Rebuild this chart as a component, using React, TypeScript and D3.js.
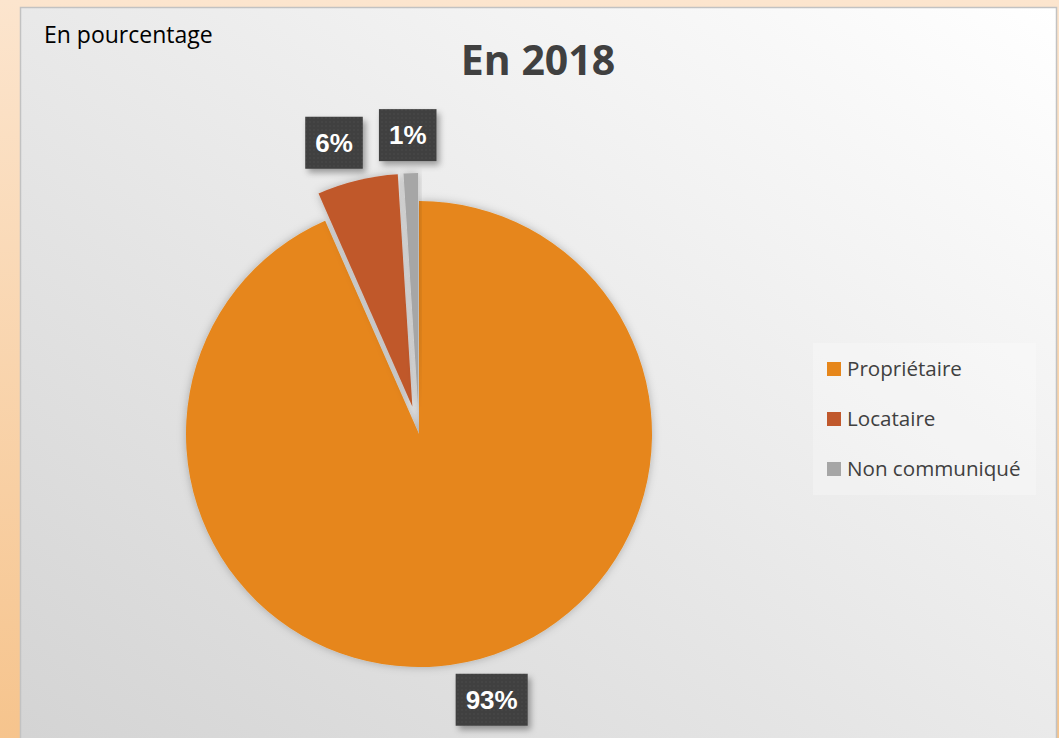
import React, { useEffect, useRef } from "react";
import * as d3 from "d3";

const categories = ["Propriétaire", "Locataire", "Non communiqué"];
const values = [93.4, 5.6, 1.0];
const colors = ["#E6861A", "#C0582C", "#A6A6A6"];
const explode = [0, 28, 28];
const title = "En 2018";
const subtitle = "En pourcentage";

const WIDTH = 1059;
const HEIGHT = 738;

export default function App() {
  const ref = useRef<SVGSVGElement>(null);

  useEffect(() => {
    document.body.style.margin = "0";
    const svg = d3.select(ref.current);
    svg.selectAll("*").remove();

    const defs = svg.append("defs");

    // outer peach background
    const bg = defs
      .append("linearGradient")
      .attr("id", "outer-bg")
      .attr("x1", "0%")
      .attr("x2", "0%")
      .attr("y1", "0%")
      .attr("y2", "100%");
    bg.append("stop").attr("offset", "0%").style("stop-color", "#FCE5CE");
    bg.append("stop").attr("offset", "100%").style("stop-color", "#F6C48D");

    // inner panel
    const pg = defs
      .append("linearGradient")
      .attr("id", "panel-bg")
      .attr("x1", "100%")
      .attr("x2", "0%")
      .attr("y1", "0%")
      .attr("y2", "100%");
    pg.append("stop").attr("offset", "0%").style("stop-color", "#FFFFFF");
    pg.append("stop").attr("offset", "100%").style("stop-color", "#D3D3D3");

    const shadow = defs.append("filter").attr("id", "slice-shadow").attr("x", "-20%").attr("y", "-20%").attr("width", "140%").attr("height", "140%");
    shadow
      .append("feDropShadow")
      .attr("dx", 0)
      .attr("dy", 0)
      .attr("stdDeviation", 4)
      .attr("flood-color", "#000")
      .attr("flood-opacity", 0.25);

    const boxShadow = defs.append("filter").attr("id", "box-shadow").attr("x", "-30%").attr("y", "-30%").attr("width", "170%").attr("height", "170%");
    boxShadow
      .append("feDropShadow")
      .attr("dx", 3)
      .attr("dy", 4)
      .attr("stdDeviation", 3)
      .attr("flood-color", "#000")
      .attr("flood-opacity", 0.35);

    const dots = defs
      .append("pattern")
      .attr("id", "dots")
      .attr("width", 4)
      .attr("height", 4)
      .attr("patternUnits", "userSpaceOnUse");
    dots.append("rect").attr("width", 4).attr("height", 4).attr("fill", "#3F3F3F");
    dots.append("circle").attr("cx", 2).attr("cy", 2).attr("r", 0.8).attr("fill", "#494949");

    svg.append("rect").attr("width", WIDTH).attr("height", HEIGHT).attr("fill", "url(#outer-bg)");
    svg
      .append("rect")
      .attr("x", 20.5)
      .attr("y", 7.5)
      .attr("width", 1036)
      .attr("height", HEIGHT + 20)
      .attr("fill", "url(#panel-bg)")
      .attr("stroke", "#C2C2C2")
      .attr("stroke-width", 1.5);

    svg
      .append("text")
      .attr("x", 44)
      .attr("y", 43)
      .attr("font-family", "'Open Sans', sans-serif")
      .attr("font-size", 23)
      .attr("fill", "#000")
      .text(subtitle);

    svg
      .append("text")
      .attr("x", 538)
      .attr("y", 75)
      .attr("text-anchor", "middle")
      .attr("font-family", "'Open Sans', sans-serif")
      .attr("font-weight", "bold")
      .attr("font-size", 41)
      .attr("fill", "#404040")
      .text(title);

    // pie
    const cx = 419;
    const cy = 434;
    const radius = 233;
    const pie = d3
      .pie<number>()
      .sort(null)
      .value((d) => d)
      .startAngle(0)
      .endAngle(2 * Math.PI);
    const arcs = pie(values);
    const arc = d3.arc<d3.PieArcDatum<number>>().innerRadius(0).outerRadius(radius);

    const g = svg.append("g").attr("transform", `translate(${cx},${cy})`);
    g.selectAll("path")
      .data(arcs)
      .join("path")
      .attr("d", arc)
      .attr("fill", (d, i) => colors[i])
      .attr("filter", "url(#slice-shadow)")
      .attr("transform", (d, i) => {
        const mid = (d.startAngle + d.endAngle) / 2;
        return `translate(${explode[i] * Math.sin(mid)},${-explode[i] * Math.cos(mid)})`;
      });

    // data labels
    const clamp = (v: number) => Math.max(-1, Math.min(1, v));
    arcs.forEach((d, i) => {
      const mid = (d.startAngle + d.endAngle) / 2;
      const s = Math.sin(mid);
      const c = -Math.cos(mid);
      const r = radius + explode[i] + 12;
      const qx = cx + r * s;
      const qy = cy + r * c;
      const lg = svg.append("g");
      const rect = lg.append("rect");
      const txt = lg
        .append("text")
        .attr("text-anchor", "middle")
        .attr("font-family", "Arial, 'Liberation Sans', sans-serif")
        .attr("font-weight", "bold")
        .attr("font-size", 26)
        .attr("fill", "#FFFFFF")
        .text(`${Math.round(values[i])}%`);
      const tw = (txt.node() as SVGTextElement).getComputedTextLength();
      const w = tw + 20;
      const h = 52;
      const lx = qx + (w / 2) * clamp(3 * s);
      const ly = qy + (h / 2) * clamp(3 * c);
      rect
        .attr("x", lx - w / 2)
        .attr("y", ly - h / 2)
        .attr("width", w)
        .attr("height", h)
        .attr("fill", "url(#dots)")
        .attr("filter", "url(#box-shadow)");
      txt.attr("x", lx).attr("y", ly + 9);
    });

    // legend
    const legend = svg.append("g");
    legend
      .append("rect")
      .attr("x", 813)
      .attr("y", 343)
      .attr("width", 223)
      .attr("height", 152)
      .attr("fill", "#FFFFFF")
      .attr("opacity", 0.25);
    const rowY = d3.scalePoint<string>().domain(categories).range([369, 469]);
    categories.forEach((name, i) => {
      legend
        .append("rect")
        .attr("x", 827)
        .attr("y", rowY(name)! - 7)
        .attr("width", 14)
        .attr("height", 14)
        .attr("fill", colors[i]);
      legend
        .append("text")
        .attr("x", 847)
        .attr("y", rowY(name)! + 7)
        .attr("font-family", "'Open Sans', sans-serif")
        .attr("font-size", 20.6)
        .attr("fill", "#404040")
        .text(name);
    });
  }, []);

  return <svg ref={ref} width={WIDTH} height={HEIGHT} style={{ display: "block" }} />;
}
